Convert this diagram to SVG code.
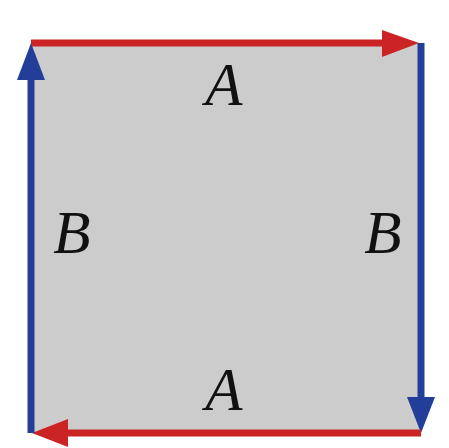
<svg xmlns="http://www.w3.org/2000/svg" width="449" height="448" viewBox="0 0 449 448">
<style>
.lbl{font-family:"Liberation Serif","Times New Roman",serif;font-style:italic;font-size:61px;fill:#111;text-anchor:middle}
.red{stroke:#cc2424;stroke-width:7;fill:none}
.blue{stroke:#233e98;stroke-width:7;fill:none}
.rh{fill:#cc2424}
.bh{fill:#233e98}
</style>
<rect width="449" height="448" fill="#fff"/>
<g id="square"><rect x="31" y="43" width="390" height="390" fill="#cccccc"/></g>
<g id="connectors">
<line class="red" x1="31" y1="43" x2="385" y2="43"/>
<polygon class="rh" points="419,43 382,30 382,57"/>
<line class="blue" x1="421" y1="43" x2="421" y2="400"/>
<polygon class="bh" points="421,433 407,397 435,397"/>
<line class="red" x1="421" y1="433" x2="65" y2="433"/>
<polygon class="rh" points="32,433 68,419 68,447"/>
<line class="blue" x1="31" y1="433" x2="31" y2="78"/>
<polygon class="bh" points="31,43 17,80 45,80"/>
</g>
<g id="labels">
<text class="lbl" x="224" y="105">A</text>
<text class="lbl" x="72" y="253">B</text>
<text class="lbl" x="383" y="253">B</text>
<text class="lbl" x="224" y="410">A</text>
</g>
</svg>
